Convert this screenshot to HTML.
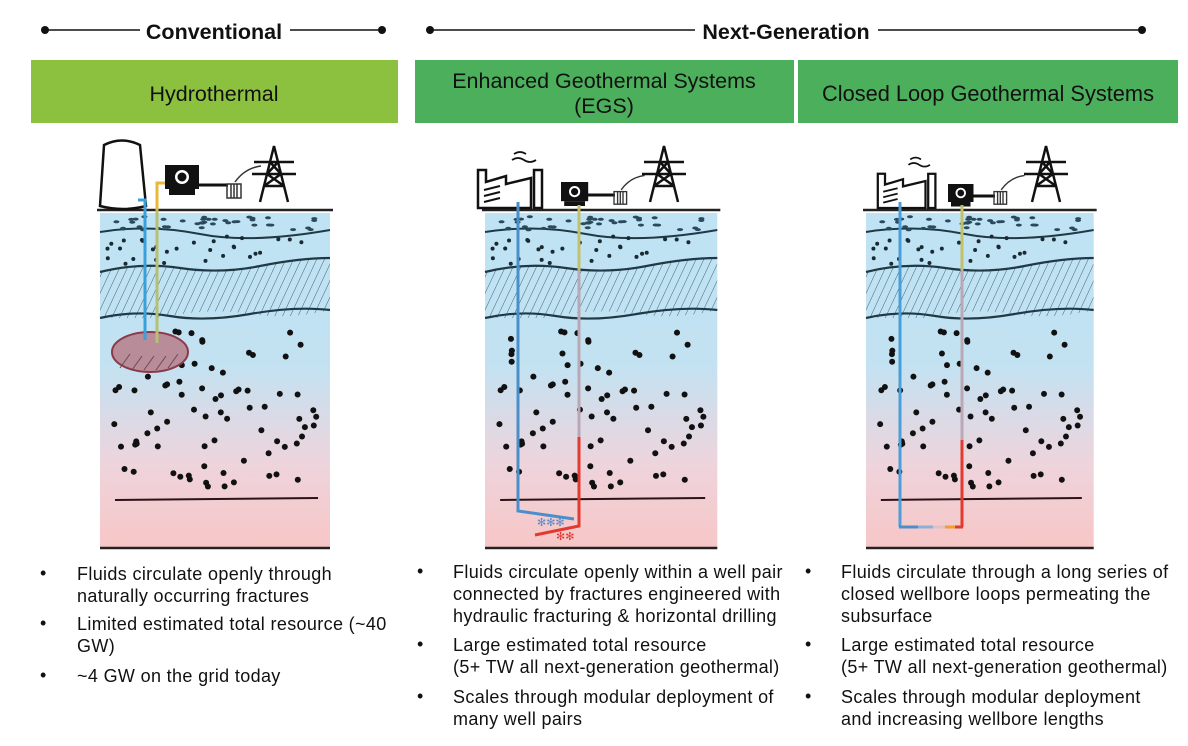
<!DOCTYPE html>
<html><head><meta charset="utf-8">
<style>
body{margin:0;width:1188px;height:746px;background:#fff;font-family:"Liberation Sans",Arial,sans-serif;overflow:hidden;position:relative}
.t{position:absolute;font-size:18px;letter-spacing:0.35px;color:#111;line-height:22px;white-space:nowrap}
.b{position:absolute;font-size:18px;color:#111}
</style></head><body>
<svg width="1188" height="746" style="position:absolute;left:0;top:0">
<defs>
<linearGradient id="bg" x1="0" y1="0" x2="0" y2="1">
<stop offset="0" stop-color="#bfe3f4"/><stop offset="0.45" stop-color="#c2e2f2"/><stop offset="0.75" stop-color="#eed4dc"/><stop offset="1" stop-color="#f7c6c6"/></linearGradient>
<pattern id="hat" width="7" height="7" patternUnits="userSpaceOnUse" patternTransform="rotate(25)"><line x1="0" y1="0" x2="0" y2="7" stroke="#3c6470" stroke-width="1"/></pattern>
<clipPath id="band"><path d="M0,62 Q40,52 80,58 T160,56 T230,48 L230,100 Q190,110 150,104 T70,106 T0,108 Z"/></clipPath>
<g id="ground">
<rect x="0" y="3" width="230" height="335" fill="url(#bg)"/>
<rect x="0" y="3" width="230" height="105" clip-path="url(#band)" fill="url(#hat)"/>
<path d="M0,22 Q50,14 100,24 T230,20" fill="none" stroke="#1f3a46" stroke-width="2"/>
<path d="M0,62 Q40,52 80,58 T160,56 T230,48" fill="none" stroke="#1f3a46" stroke-width="2.2"/>
<path d="M0,108 Q35,100 70,106 T150,104 T230,100" fill="none" stroke="#1f3a46" stroke-width="2.2"/>
<line x1="-3" y1="0" x2="233" y2="0" stroke="#222" stroke-width="2.5"/>
<line x1="15" y1="290" x2="218" y2="288" stroke="#2a1414" stroke-width="2"/>
<line x1="0" y1="338" x2="230" y2="338" stroke="#222" stroke-width="2.5"/>
<g id="dots"></g>
</g>
<g id="tower" fill="none" stroke="#111" stroke-width="2.5">
<path d="M0,56 L14,0 L28,56 M4,40 L24,40 M7,28 L21,28 M10,16 L18,16 M-6,16 L34,16 M-8,28 L36,28 M4,40 L21,28 M24,40 L7,28 M7,28 L18,16 M21,28 L10,16"/>
</g>
<g id="gen">
<rect x="0" y="0" width="34" height="24" fill="#111"/><circle cx="17" cy="12" r="7" fill="#fff"/><circle cx="17" cy="12" r="4.5" fill="#111"/>
<rect x="4" y="24" width="26" height="6" fill="#111"/>
</g>
<g id="trans" fill="none" stroke="#333" stroke-width="1.5"><rect x="0" y="4" width="14" height="14"/><line x1="4" y1="4" x2="4" y2="18"/><line x1="7" y1="4" x2="7" y2="18"/><line x1="10" y1="4" x2="10" y2="18"/><path d="M8,2 Q18,-12 34,-14"/></g>
<g id="plant" fill="#fff" stroke="#111" stroke-width="2.5">
<path d="M2,40 L2,2 L10,2 L10,14 L30,8 L30,16 L55,10 L55,40 Z"/><rect x="58" y="2" width="8" height="38"/>
<path d="M8,22 L24,18 M8,28 L24,24 M8,34 L24,30" fill="none" stroke-width="2"/>
<path d="M36,-8 q6,-4 12,0 q6,4 12,0 M38,-14 q6,-4 12,0" fill="none" stroke-width="1.8"/>
</g>
</defs>

<line x1="45" y1="30" x2="140" y2="30" stroke="#111" stroke-width="1.5"/><line x1="290" y1="30" x2="382" y2="30" stroke="#111" stroke-width="1.5"/>
<circle cx="45" cy="30" r="4" fill="#111"/><circle cx="382" cy="30" r="4" fill="#111"/>
<line x1="430" y1="30" x2="695" y2="30" stroke="#111" stroke-width="1.5"/><line x1="878" y1="30" x2="1142" y2="30" stroke="#111" stroke-width="1.5"/>
<circle cx="430" cy="30" r="4" fill="#111"/><circle cx="1142" cy="30" r="4" fill="#111"/>
<text x="214" y="39" text-anchor="middle" font-family="Liberation Sans" font-weight="bold" font-size="21.5" fill="#111">Conventional</text>
<text x="786" y="39" text-anchor="middle" font-family="Liberation Sans" font-weight="bold" font-size="21.5" fill="#111">Next-Generation</text>
<rect x="31" y="60" width="367" height="63" fill="#8cc13f"/>
<rect x="415" y="60" width="379" height="63" fill="#4caf5c"/>
<rect x="798" y="60" width="380" height="63" fill="#4caf5c"/>
<text x="214" y="101" text-anchor="middle" font-family="Liberation Sans" font-size="21.5" fill="#111">Hydrothermal</text>
<text x="604" y="88" text-anchor="middle" font-family="Liberation Sans" font-size="21.5" fill="#111">Enhanced Geothermal Systems</text>
<text x="604" y="113" text-anchor="middle" font-family="Liberation Sans" font-size="21.5" fill="#111">(EGS)</text>
<text x="988" y="101" text-anchor="middle" font-family="Liberation Sans" font-size="21.8" fill="#111">Closed Loop Geothermal Systems</text>

<use href="#ground" transform="translate(100,210)"/>
<path d="M100,206 L104,145 Q122,136 140,145 L146,206 Q123,212 100,206Z" fill="#fff" stroke="#111" stroke-width="2.5"/>
<use href="#gen" transform="translate(165,165)"/>
<line x1="199" y1="185" x2="228" y2="185" stroke="#111" stroke-width="3"/>
<use href="#trans" transform="translate(227,180)"/>
<use href="#tower" transform="translate(260,146)"/>
<ellipse cx="150" cy="352" rx="38" ry="20" fill="#b88c98" stroke="#8b3a4a" stroke-width="2"/>
<path d="M120,368 l10,-14 M132,370 l10,-14 M144,370 l10,-14 M156,370 l10,-14 M168,368 l10,-14" stroke="#6a4a55" stroke-width="1"/>
<path d="M138,200 L145,200 L145,340" fill="none" stroke="#3aa0dc" stroke-width="3"/>
<path d="M165,183 L157,183 L157,343" fill="none" stroke="#e8b83a" stroke-width="3"/>
<path d="M157,210 L157,343" stroke="#b7c070" stroke-width="3"/>

<g transform="translate(485,210) scale(1.01,1)"><use href="#ground"/></g>
<use href="#plant" transform="translate(476,168)"/>
<use href="#gen" transform="translate(561,182) scale(0.8)"/>
<line x1="588" y1="195" x2="615" y2="195" stroke="#111" stroke-width="3"/>
<use href="#trans" transform="translate(614,188) scale(0.9)"/>
<use href="#tower" transform="translate(650,146)"/>
<path d="M518,202 L518,511 L574,519" fill="none" stroke="#4a8fca" stroke-width="3"/>
<path d="M579,205 L579,437" stroke="#b9a8b4" stroke-width="3"/>
<path d="M579,205 L579,270" stroke="#c2c06a" stroke-width="3"/>
<path d="M579,437 L579,526 L535,535" fill="none" stroke="#e23a30" stroke-width="3"/>
<text x="537" y="526" font-size="11" fill="#5a8ac8">✻✻✻</text>
<text x="556" y="540" font-size="11" fill="#e23a30">✻✻</text>

<use href="#ground" transform="translate(866,210) scale(0.99,1)"/>
<use href="#plant" transform="translate(876,172) scale(0.9)"/>
<use href="#gen" transform="translate(948,184) scale(0.75)"/>
<line x1="973" y1="196" x2="995" y2="196" stroke="#111" stroke-width="3"/>
<use href="#trans" transform="translate(994,188) scale(0.9)"/>
<use href="#tower" transform="translate(1032,146)"/>
<path d="M900,202 L900,527" stroke="#4a9fd8" stroke-width="3"/>
<path d="M962,205 L962,440" stroke="#bba8b4" stroke-width="3"/>
<path d="M962,205 L962,270" stroke="#c2c06a" stroke-width="3"/>
<path d="M962,440 L962,527" stroke="#e23a30" stroke-width="3"/>
<line x1="899" y1="527" x2="918" y2="527" stroke="#4a8fca" stroke-width="3"/>
<line x1="918" y1="527" x2="933" y2="527" stroke="#8ab0d8" stroke-width="3"/>
<line x1="933" y1="527" x2="945" y2="527" stroke="#e0c0c8" stroke-width="3"/>
<line x1="945" y1="527" x2="955" y2="527" stroke="#f0a030" stroke-width="3"/>
<line x1="955" y1="527" x2="963" y2="527" stroke="#e23a30" stroke-width="3"/>
</svg>

<div class="b" style="left:40px;top:563px">•</div><div class="t" style="left:77px;top:563px">Fluids circulate openly through<br>naturally occurring fractures</div>
<div class="b" style="left:40px;top:613px">•</div><div class="t" style="left:77px;top:613px">Limited estimated total resource (~40<br>GW)</div>
<div class="b" style="left:40px;top:665px">•</div><div class="t" style="left:77px;top:665px">~4 GW on the grid today</div>

<div class="b" style="left:417px;top:561px">•</div><div class="t" style="left:453px;top:561px">Fluids circulate openly within a well pair<br>connected by fractures engineered with<br>hydraulic fracturing &amp; horizontal drilling</div>
<div class="b" style="left:417px;top:634px">•</div><div class="t" style="left:453px;top:634px">Large estimated total resource<br>(5+ TW all next-generation geothermal)</div>
<div class="b" style="left:417px;top:686px">•</div><div class="t" style="left:453px;top:686px">Scales through modular deployment of<br>many well pairs</div>

<div class="b" style="left:805px;top:561px">•</div><div class="t" style="left:841px;top:561px">Fluids circulate through a long series of<br>closed wellbore loops permeating the<br>subsurface</div>
<div class="b" style="left:805px;top:634px">•</div><div class="t" style="left:841px;top:634px">Large estimated total resource<br>(5+ TW all next-generation geothermal)</div>
<div class="b" style="left:805px;top:686px">•</div><div class="t" style="left:841px;top:686px">Scales through modular deployment<br>and increasing wellbore lengths</div>

<script>
(function(){
var s=7;function r(){s=(s*9301+49297)%233280;return s/233280;}
var g=document.getElementById('dots'),h='';
for(var i=0;i<40;i++){h+='<ellipse cx="'+(6+r()*218).toFixed(1)+'" cy="'+(6+r()*14).toFixed(1)+'" rx="3" ry="1.5" fill="#2a4a5a"/>';}
for(var i=0;i<30;i++){var x=6+r()*218;h+='<circle cx="'+x.toFixed(1)+'" cy="'+(30+r()*24+(x>120?-4:0)).toFixed(1)+'" r="2" fill="#1a2a33"/>';}
for(var i=0;i<80;i++){h+='<circle cx="'+(8+r()*214).toFixed(1)+'" cy="'+(118+r()*160).toFixed(1)+'" r="3" fill="#111"/>';}
g.innerHTML=h;
})();
</script>
</body></html>
